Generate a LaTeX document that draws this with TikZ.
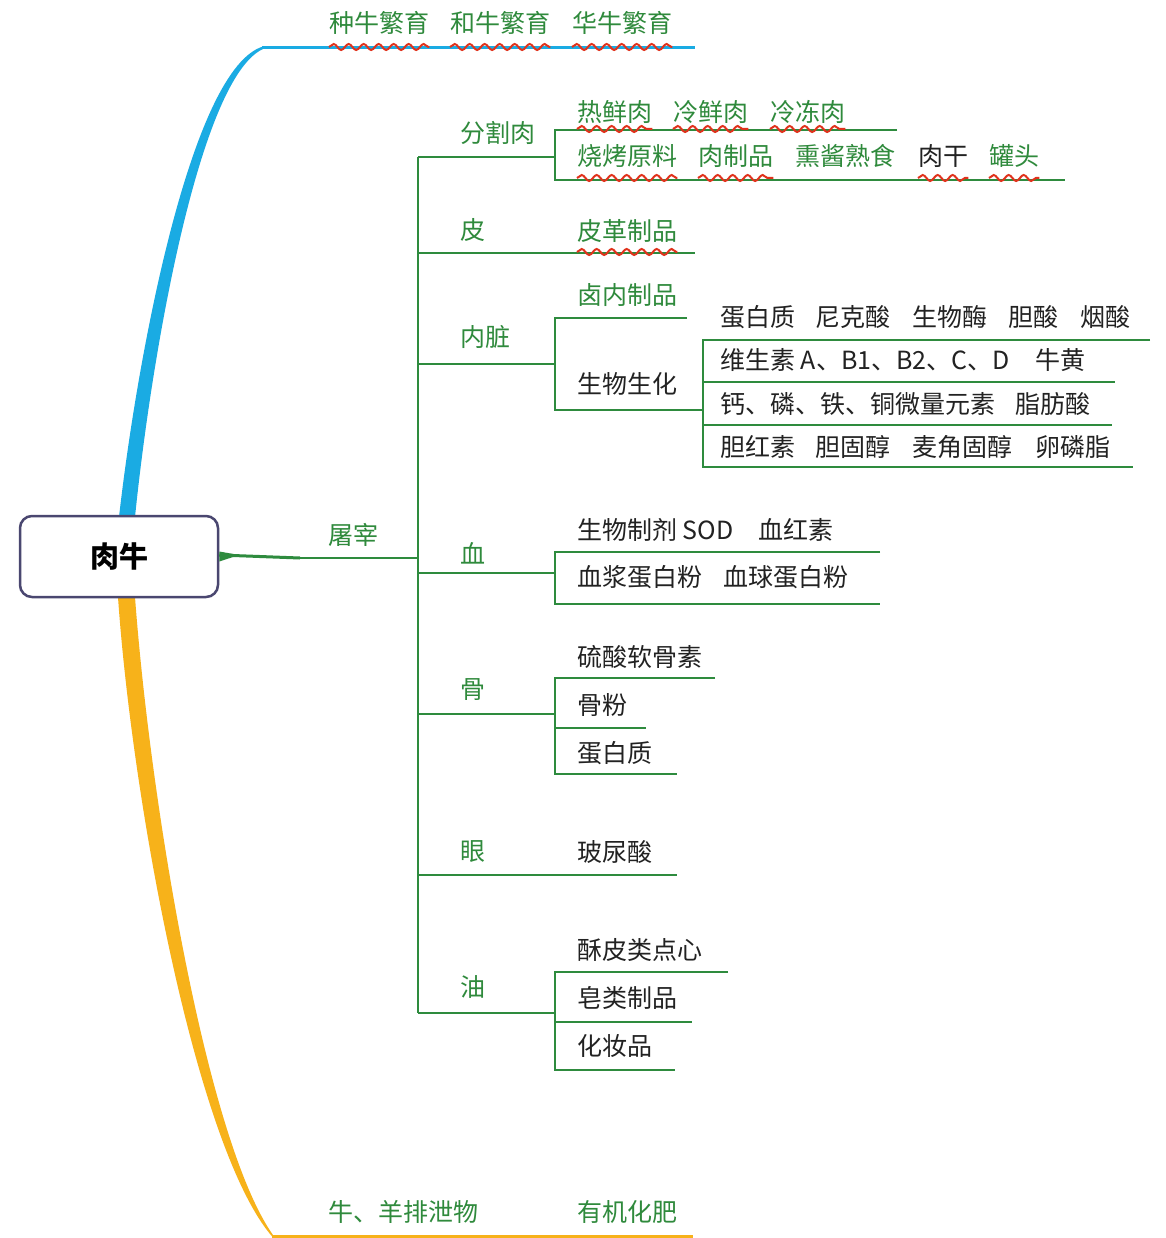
\documentclass[tikz,border=0pt]{standalone}
\usepackage{fontspec}
\setmainfont{Noto Sans CJK SC}
\usetikzlibrary{decorations.pathmorphing}
\definecolor{mgreen}{HTML}{2E8B3E}
\definecolor{tgreen}{HTML}{2F8A3C}
\definecolor{mblue}{HTML}{1AABE3}
\definecolor{morange}{HTML}{F7B21A}
\definecolor{mred}{HTML}{E0321C}
\definecolor{mborder}{HTML}{4A4770}
\definecolor{tblack}{HTML}{222222}
\begin{document}
\begin{tikzpicture}[x=1pt,y=-1pt,
 gt/.style={anchor=west,inner sep=0pt,text=tgreen,font=\fontsize{25pt}{29pt}\selectfont},
 bt/.style={gt,text=tblack},
 br/.style={draw=mgreen,line width=2.5pt},
 wavy/.style={draw=mred,line width=2pt,decorate,decoration={snake,segment length=15pt,amplitude=3pt}},
]
\useasboundingbox[fill=white] (0,0) rectangle (1165,1238);

% coloured main branches
\fill[mblue] (119,517) .. controls (138,350) and (192,68) .. (263,46.5)
  -- (263,49) .. controls (200,78) and (152,350) .. (135,517) -- cycle;
\draw[mblue,line width=2.5pt] (262,47.5) -- (695,47.5);
\fill[morange] (118,597) .. controls (132,800) and (196,1150) .. (273,1237.5)
  -- (273,1235) .. controls (206,1140) and (150,800) .. (135,597) -- cycle;
\draw[morange,line width=2.5pt] (272,1236.5) -- (693,1236.5);

% root
\node[draw=mborder,line width=2.5pt,rounded corners=12pt,fill=white,
      minimum width=198pt,minimum height=81pt,inner sep=0pt,
      font=\fontsize{29pt}{32pt}\selectfont\bfseries,text=black] (root) at (119,556.5) {肉牛};

% green structure
\coordinate (trunk) at (418,558);
\fill[mgreen] ([yshift=-5pt]root.east) -- ([yshift=5pt]root.east) -- ([xshift=20pt,yshift=1.5pt]root.east) -- cycle;
\draw[br,line width=3pt] ([yshift=1.5pt]root.east) -- (300,558);
\draw[br] (300,558) -- (trunk);
\draw[br] (418,157) -- (418,1013);
% 分割肉
\draw[br] (418,157) -- (555,157);
\draw[br] (897,130) -- (555,130) -- (555,180) -- (1065,180);
% 皮
\draw[br] (418,253) -- (695,253);
% 内脏
\draw[br] (418,364) -- (555,364);
\draw[br] (687,318) -- (555,318) -- (555,410) -- (703,410);
\draw[br] (1150,340) -- (703,340) -- (703,467) -- (1133,467);
\draw[br] (703,382) -- (1115,382);
\draw[br] (703,425) -- (1112,425);
% 血
\draw[br] (418,573) -- (555,573);
\draw[br] (880,552) -- (555,552) -- (555,604) -- (880,604);
% 骨
\draw[br] (418,714) -- (555,714);
\draw[br] (715,678) -- (555,678) -- (555,774) -- (677,774);
\draw[br] (555,728) -- (646,728);
% 眼
\draw[br] (418,875) -- (677,875);
% 油
\draw[br] (418,1013) -- (555,1013);
\draw[br] (728,972) -- (555,972) -- (555,1070) -- (675,1070);
\draw[br] (555,1022) -- (692,1022);

% top texts
\node[gt] (z1) at (329,23) {种牛繁育};
\node[gt] (z2) at (450,23) {和牛繁育};
\node[gt] (z3) at (572,23) {华牛繁育};
\foreach \n in {z1,z2,z3} \draw[wavy] (\n.west |- 0,47) -- (\n.east |- 0,47);

% 屠宰
\node[gt] (tuzai) at (328,535) {屠宰};

% 分割肉
\node[gt] (fgr) at (460,133) {分割肉};
\node[gt] (r1a) at (577,112) {热鲜肉};
\node[gt] (r1b) at (673,112) {冷鲜肉};
\node[gt] (r1c) at (770,112) {冷冻肉};
\node[gt] (r2a) at (577,156) {烧烤原料};
\node[gt] (r2b) at (698,156) {肉制品};
\node[gt] (r2c) at (795,156) {熏酱熟食};
\node[bt] (r2d) at (918,156) {肉干};
\node[gt] (r2e) at (989,156) {罐头};
\foreach \n in {r1a,r1b,r1c} \draw[wavy] (\n.west |- 0,129) -- (\n.east |- 0,129);
\foreach \n in {r2a,r2b,r2d,r2e} \draw[wavy] (\n.west |- 0,178) -- (\n.east |- 0,178);

% 皮
\node[gt] (pi) at (460,230) {皮};
\node[gt] (pgzp) at (577,231) {皮革制品};
\draw[wavy] (pgzp.west |- 0,252) -- (pgzp.east |- 0,252);

% 内脏
\node[gt] (nz) at (460,337) {内脏};
\node[gt] (lnzp) at (577,295) {卤内制品};
\node[bt] (swsh) at (577,384) {生物生化};
\node[bt] (a1) at (720,317) {蛋白质};
\node[bt] (a2) at (815,317) {尼克酸};
\node[bt] (a3) at (912,317) {生物酶};
\node[bt] (a4) at (1008,317) {胆酸};
\node[bt] (a5) at (1080,317) {烟酸};
\node[bt] (b1) at (720,360) {维生素 A、B1、B2、C、D};
\node[bt] (b2) at (1035,360) {牛黄};
\node[bt] (c1) at (720,404) {钙、磷、铁、铜微量元素};
\node[bt] (c2) at (1015,404) {脂肪酸};
\node[bt] (d1) at (720,447) {胆红素};
\node[bt] (d2) at (815,447) {胆固醇};
\node[bt] (d3) at (912,447) {麦角固醇};
\node[bt] (d4) at (1035,447) {卵磷脂};

% 血
\node[gt] (xue) at (460,553) {血};
\node[bt] (x1) at (577,530) {生物制剂 SOD};
\node[bt] (x2) at (758,530) {血红素};
\node[bt] (x3) at (577,577) {血浆蛋白粉};
\node[bt] (x4) at (723,577) {血球蛋白粉};

% 骨
\node[gt] (gu) at (460,690) {骨};
\node[bt] (g1) at (577,657) {硫酸软骨素};
\node[bt] (g2) at (577,705) {骨粉};
\node[bt] (g3) at (577,753) {蛋白质};

% 眼
\node[gt] (yan) at (460,852) {眼};
\node[bt] (y1) at (577,852) {玻尿酸};

% 油
\node[gt] (you) at (460,987) {油};
\node[bt] (o1) at (577,950) {酥皮类点心};
\node[bt] (o2) at (577,998) {皂类制品};
\node[bt] (o3) at (577,1046) {化妆品};

% bottom texts
\node[gt] (pxw) at (328,1212) {牛、羊排泄物};
\node[gt] (yjhf) at (577,1212) {有机化肥};
\end{tikzpicture}
\end{document}
